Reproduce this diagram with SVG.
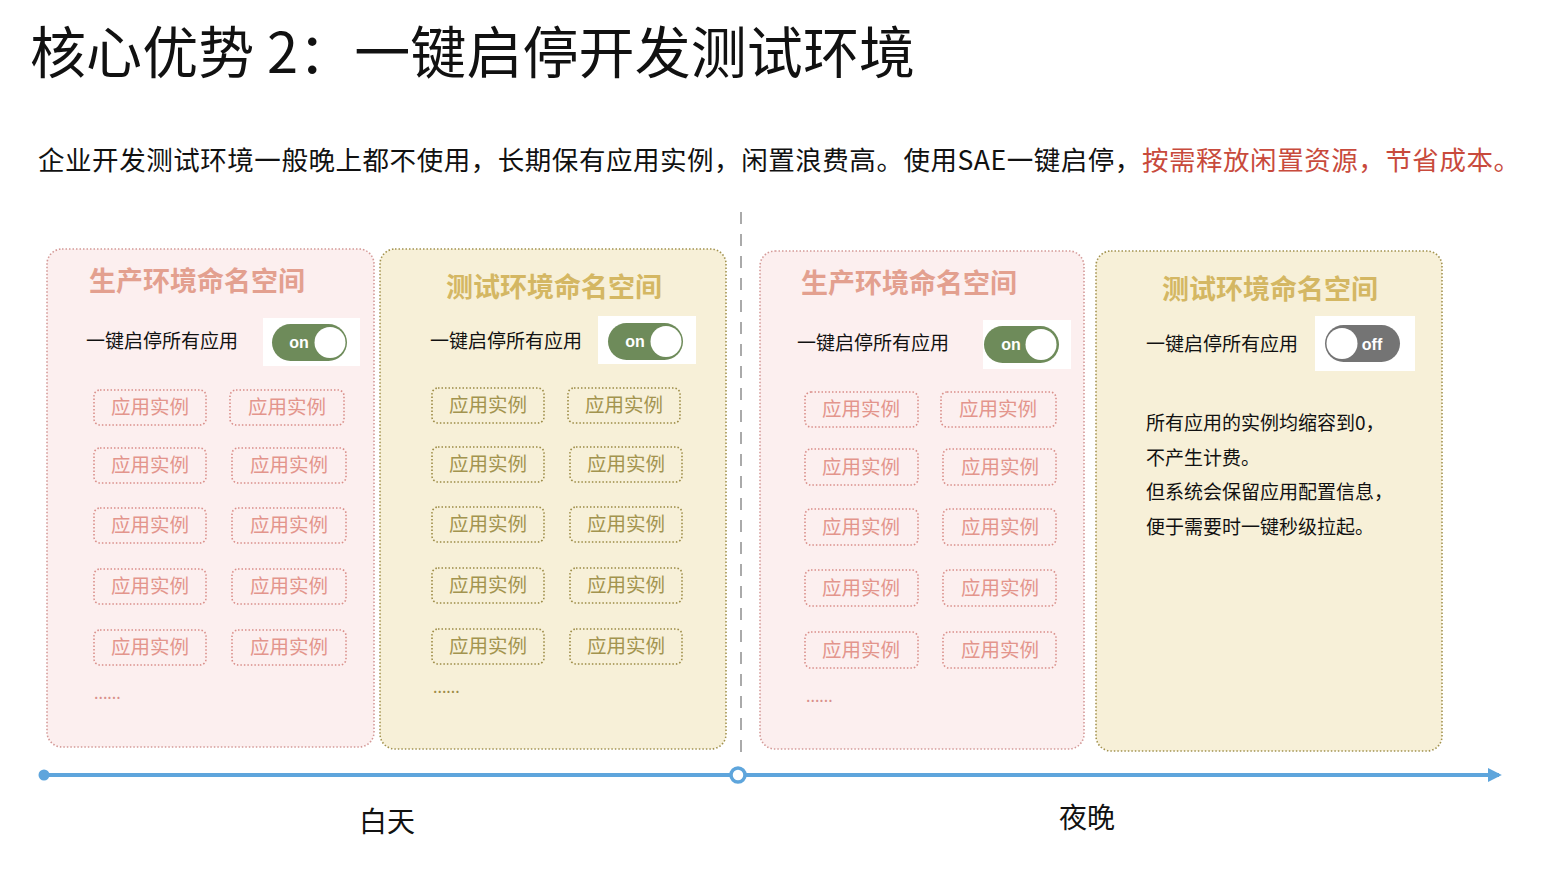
<svg xmlns="http://www.w3.org/2000/svg" width="1564" height="870" viewBox="0 0 1564 870">
<defs>
<style>
text{font-family:"Noto Sans CJK SC","Liberation Sans",sans-serif;}
.title{font-size:56px;fill:#111;}
.sub{font-size:26.5px;fill:#111;}
.red{fill:#c84a3c;}
.pinkp{fill:#fcefef;stroke:#d49a98;stroke-width:1.6;stroke-dasharray:1.5 2;}
.yelp{fill:#f7f0d8;stroke:#a39350;stroke-width:1.6;stroke-dasharray:1.5 2;}
.hp{font-size:27px;font-weight:bold;fill:#e3a08f;text-anchor:middle;}
.hy{font-size:27px;font-weight:bold;fill:#d4b763;text-anchor:middle;}
.lbl{font-size:19px;fill:#111;}
.ip{fill:none;stroke:#d98f8a;stroke-width:1.6;stroke-dasharray:1.5 2;}
.iy{fill:none;stroke:#9c8b45;stroke-width:1.6;stroke-dasharray:1.5 2;}
.tp{font-size:19.5px;fill:#e3958c;text-anchor:middle;}
.ty{font-size:19.5px;fill:#a3944f;text-anchor:middle;}
.dp{font-size:16px;fill:#d98f8a;}
.dy{font-size:16px;fill:#9c8b45;}
.tgbg{fill:#ffffff;}
.on{fill:#6e8b5a;}
.off{fill:#747474;}
.knob{fill:#ffffff;}
.tgt{font-size:16px;fill:#fff;font-family:"Liberation Sans",sans-serif;font-weight:bold;}
.note{font-size:19px;fill:#111;}
.axis{font-size:28px;fill:#111;text-anchor:middle;}
</style>
<marker id="arr" viewBox="0 0 10 10" refX="8" refY="5" markerWidth="3.5" markerHeight="3.5" orient="auto" markerUnits="strokeWidth"><path d="M0,0 L10,5 L0,10 z" fill="#5ea5dc"/></marker>
</defs>
<rect width="1564" height="870" fill="#ffffff"/>
<text class="title" x="30" y="73" textLength="885" lengthAdjust="spacing">核心优势 2：一键启停开发测试环境</text>
<text class="sub" x="38" y="170" textLength="1482" lengthAdjust="spacing">企业开发测试环境一般晚上都不使用，长期保有应用实例，闲置浪费高。使用SAE一键启停，<tspan class="red">按需释放闲置资源，节省成本。</tspan></text>

<g id="divider"><line x1="741" y1="212" x2="741" y2="752" stroke="#aaaaaa" stroke-width="2" stroke-dasharray="12 10"/></g>

<g id="panel-prod-day">
<rect class="pinkp" x="47" y="249" width="327" height="498" rx="15"/>
<text class="hp" x="197" y="291">生产环境命名空间</text>
<text class="lbl" x="86" y="348">一键启停所有应用</text>
<rect class="tgbg" x="263" y="318" width="97" height="48"/>
<rect class="on" x="272" y="324" width="75" height="37" rx="18.5"/>
<text class="tgt" x="299" y="348" text-anchor="middle">on</text>
<circle class="knob" cx="330" cy="342.5" r="15.5"/>
<rect class="ip" x="94" y="390" width="112" height="35" rx="6"/><text class="tp" x="150" y="414">应用实例</text>
<rect class="ip" x="230" y="390" width="114" height="35" rx="6"/><text class="tp" x="287" y="414">应用实例</text>
<rect class="ip" x="94" y="448" width="112" height="35" rx="6"/><text class="tp" x="150" y="472">应用实例</text>
<rect class="ip" x="232" y="448" width="114" height="35" rx="6"/><text class="tp" x="289" y="472">应用实例</text>
<rect class="ip" x="94" y="508" width="112" height="35" rx="6"/><text class="tp" x="150" y="532">应用实例</text>
<rect class="ip" x="232" y="508" width="114" height="35" rx="6"/><text class="tp" x="289" y="532">应用实例</text>
<rect class="ip" x="94" y="569" width="112" height="35" rx="6"/><text class="tp" x="150" y="593">应用实例</text>
<rect class="ip" x="232" y="569" width="114" height="35" rx="6"/><text class="tp" x="289" y="593">应用实例</text>
<rect class="ip" x="94" y="630" width="112" height="35" rx="6"/><text class="tp" x="150" y="654">应用实例</text>
<rect class="ip" x="232" y="630" width="114" height="35" rx="6"/><text class="tp" x="289" y="654">应用实例</text>
<text class="dp" x="94" y="699">......</text>
</g>

<g id="panel-test-day">
<rect class="yelp" x="380" y="249" width="346" height="500" rx="15"/>
<text class="hy" x="554" y="297">测试环境命名空间</text>
<text class="lbl" x="430" y="348">一键启停所有应用</text>
<rect class="tgbg" x="598" y="316" width="98" height="48"/>
<rect class="on" x="608" y="323" width="75" height="37" rx="18.5"/>
<text class="tgt" x="635" y="347" text-anchor="middle">on</text>
<circle class="knob" cx="666" cy="341.5" r="15.5"/>
<rect class="iy" x="432" y="388" width="112" height="35" rx="6"/><text class="ty" x="488" y="412">应用实例</text>
<rect class="iy" x="568" y="388" width="112" height="35" rx="6"/><text class="ty" x="624" y="412">应用实例</text>
<rect class="iy" x="432" y="447" width="112" height="35" rx="6"/><text class="ty" x="488" y="471">应用实例</text>
<rect class="iy" x="570" y="447" width="112" height="35" rx="6"/><text class="ty" x="626" y="471">应用实例</text>
<rect class="iy" x="432" y="507" width="112" height="35" rx="6"/><text class="ty" x="488" y="531">应用实例</text>
<rect class="iy" x="570" y="507" width="112" height="35" rx="6"/><text class="ty" x="626" y="531">应用实例</text>
<rect class="iy" x="432" y="568" width="112" height="35" rx="6"/><text class="ty" x="488" y="592">应用实例</text>
<rect class="iy" x="570" y="568" width="112" height="35" rx="6"/><text class="ty" x="626" y="592">应用实例</text>
<rect class="iy" x="432" y="629" width="112" height="35" rx="6"/><text class="ty" x="488" y="653">应用实例</text>
<rect class="iy" x="570" y="629" width="112" height="35" rx="6"/><text class="ty" x="626" y="653">应用实例</text>
<text class="dy" x="433" y="693">......</text>
</g>

<g id="panel-prod-night">
<rect class="pinkp" x="760" y="251" width="324" height="498" rx="15"/>
<text class="hp" x="909" y="293">生产环境命名空间</text>
<text class="lbl" x="797" y="350">一键启停所有应用</text>
<rect class="tgbg" x="983" y="320" width="88" height="49"/>
<rect class="on" x="984" y="326" width="75" height="37" rx="18.5"/>
<text class="tgt" x="1011" y="350" text-anchor="middle">on</text>
<circle class="knob" cx="1041" cy="344.5" r="15.5"/>
<rect class="ip" x="805" y="392" width="113" height="35" rx="6"/><text class="tp" x="861" y="416">应用实例</text>
<rect class="ip" x="941" y="392" width="115" height="35" rx="6"/><text class="tp" x="998" y="416">应用实例</text>
<rect class="ip" x="805" y="449" width="113" height="36" rx="6"/><text class="tp" x="861" y="474">应用实例</text>
<rect class="ip" x="943" y="449" width="113" height="36" rx="6"/><text class="tp" x="1000" y="474">应用实例</text>
<rect class="ip" x="805" y="509" width="113" height="36" rx="6"/><text class="tp" x="861" y="534">应用实例</text>
<rect class="ip" x="943" y="509" width="113" height="36" rx="6"/><text class="tp" x="1000" y="534">应用实例</text>
<rect class="ip" x="805" y="570" width="113" height="36" rx="6"/><text class="tp" x="861" y="595">应用实例</text>
<rect class="ip" x="943" y="570" width="113" height="36" rx="6"/><text class="tp" x="1000" y="595">应用实例</text>
<rect class="ip" x="805" y="632" width="113" height="36" rx="6"/><text class="tp" x="861" y="657">应用实例</text>
<rect class="ip" x="943" y="632" width="113" height="36" rx="6"/><text class="tp" x="1000" y="657">应用实例</text>
<text class="dp" x="806" y="702">......</text>
</g>

<g id="panel-test-night">
<rect class="yelp" x="1096" y="251" width="346" height="500" rx="15"/>
<text class="hy" x="1270" y="299">测试环境命名空间</text>
<text class="lbl" x="1146" y="351">一键启停所有应用</text>
<rect class="tgbg" x="1315" y="316" width="100" height="55"/>
<rect class="off" x="1325" y="325" width="75" height="37" rx="18.5"/>
<circle class="knob" cx="1342" cy="343.5" r="15.5"/>
<text class="tgt" x="1372" y="350" text-anchor="middle">off</text>
<text class="note" x="1146" y="430">所有应用的实例均缩容到0，</text>
<text class="note" x="1146" y="465">不产生计费。</text>
<text class="note" x="1146" y="499">但系统会保留应用配置信息，</text>
<text class="note" x="1146" y="534">便于需要时一键秒级拉起。</text>
</g>

<g id="connectors">
<line x1="44" y1="775" x2="730" y2="775" stroke="#5ea5dc" stroke-width="4"/>
<line x1="746" y1="775" x2="1499" y2="775" stroke="#5ea5dc" stroke-width="4" marker-end="url(#arr)"/>
<circle cx="44" cy="775" r="5.5" fill="#5ea5dc"/>
<circle cx="738" cy="775" r="7" fill="#ffffff" stroke="#5ea5dc" stroke-width="3.5"/>
</g>

<g id="labels">
<text class="axis" x="387" y="832">白天</text>
<text class="axis" x="1087" y="828">夜晚</text>
</g>
</svg>
